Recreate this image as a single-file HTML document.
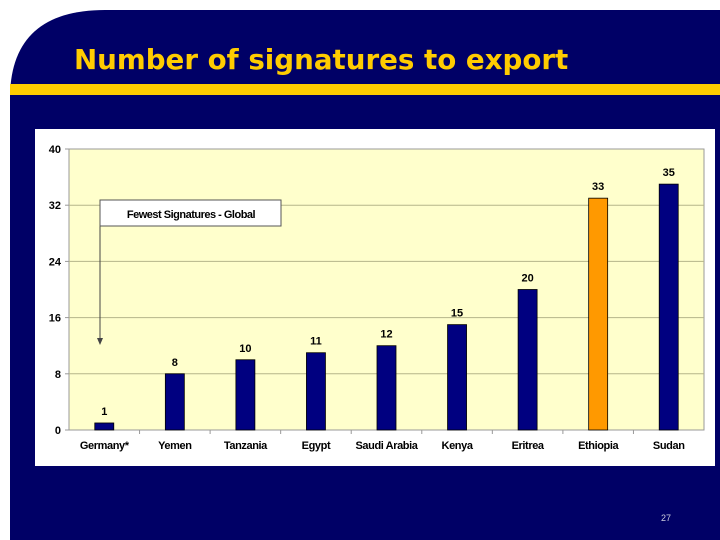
<!DOCTYPE html>
<html><head><meta charset="utf-8"><style>
html,body{margin:0;padding:0;background:#fff;width:720px;height:540px;overflow:hidden}
svg{display:block}
</style></head><body>
<svg width="720" height="540" viewBox="0 0 720 540" xmlns="http://www.w3.org/2000/svg" font-family="Liberation Sans, Arial, sans-serif">
<path d="M10,540 L10,95 Q12,10 105,10 L720,10 L720,540 Z" fill="#000066"/>
<rect x="10" y="84" width="710" height="11" fill="#ffcc00"/>
<text x="74" y="69" fill="#ffcc00" font-family="DejaVu Sans, Verdana, sans-serif" font-weight="bold" font-size="27.7">Number of signatures to export</text>
<rect x="35" y="129" width="680" height="337" fill="#fff"/>
<rect x="69" y="149" width="635" height="281" fill="#ffffcc" stroke="#999" stroke-width="1"/>
<g id="grid"></g><g id="bars"></g>
<g>
<line x1="100" y1="226" x2="100" y2="338" stroke="#444" stroke-width="1"/>
<path d="M97,338 L103,338 L100,345 Z" fill="#444"/>
<rect x="100" y="200" width="181" height="26" fill="#fff" stroke="#555" stroke-width="1"/>
<text x="191" y="218" text-anchor="middle" font-size="11" font-weight="bold" letter-spacing="-0.5" fill="#000">Fewest Signatures - Global</text>
</g>
<text x="666" y="521" text-anchor="middle" font-size="9" fill="#ccccdd">27</text>
</svg>
<script>
const categories=["Germany*","Yemen","Tanzania","Egypt","Saudi Arabia","Kenya","Eritrea","Ethiopia","Sudan"];
const values=[1,8,10,11,12,15,20,33,35];
const highlight=["Ethiopia"];
const yTicks=[0,8,16,24,32,40];
const x0=69,x1=704,yTop=149,yBot=430,yMax=40;
const bw=(x1-x0)/categories.length;
const yS=v=>yBot-(v/yMax)*(yBot-yTop);
const xC=i=>x0+bw*(i+0.5);
const NS="http://www.w3.org/2000/svg";
const g=document.getElementById('grid'),b=document.getElementById('bars');
function mk(t,a,p){const e=document.createElementNS(NS,t);for(const k in a)e.setAttribute(k,a[k]);p.appendChild(e);return e;}
yTicks.forEach(t=>{
 if(t>0&&t<yMax){const l=mk('line',{x1:x0,x2:x1,y1:yS(t),y2:yS(t),stroke:'#b5b58a','stroke-width':1},g);
 
 }
 const tl=mk('line',{x1:x0-4,x2:x0,y1:yS(t),y2:yS(t),stroke:'#999'},g);
 const tx=mk('text',{x:x0-8,y:yS(t)+4,'text-anchor':'end','font-size':11,'font-weight':'bold',fill:'#000'},g);
 tx.textContent=t;
 
 
});
categories.forEach((c,i)=>{
 const v=values[i],w=19;
 const r=mk('rect',{x:xC(i)-w/2,y:yS(v),width:w,height:yBot-yS(v),fill:highlight.includes(c)?'#ff9900':'#000080',stroke:'#000','stroke-width':0.8},b);
 
 
 const vl=mk('text',{x:xC(i),y:yS(v)-8,'text-anchor':'middle','font-size':11,'font-weight':'bold',fill:'#000'},b);
 vl.textContent=v;
 
 
 const cl=mk('text',{x:xC(i),y:449,'text-anchor':'middle','font-size':11,'font-weight':'bold','letter-spacing':'-0.4',fill:'#000'},b);
 cl.textContent=c;
 
 
 if(i>0){mk('line',{x1:x0+bw*i,x2:x0+bw*i,y1:yBot,y2:yBot+4,stroke:'#999'},b);}
});
</script>
</body></html>
